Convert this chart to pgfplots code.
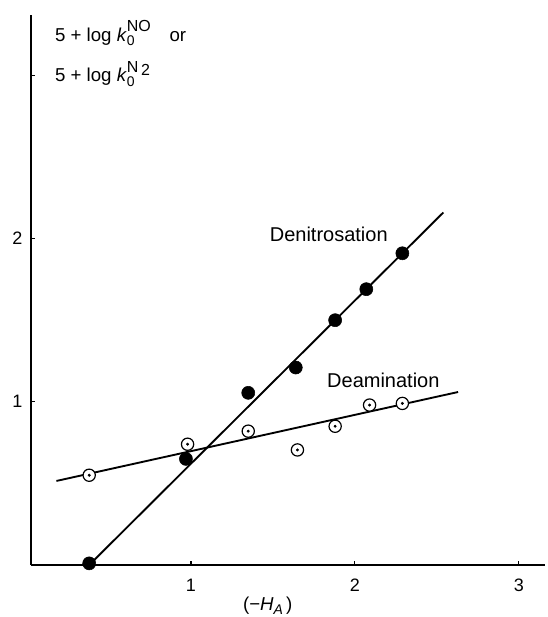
\documentclass[border=0pt]{standalone}
\usepackage{fontspec}
\setmainfont{Liberation Sans}
\usepackage{pgfplots}
\pgfplotsset{compat=1.18}
\newcommand{\lowsub}[1]{\raisebox{-0.45ex}{\fontsize{10.5}{11}\selectfont #1}}
\newcommand{\highsup}[1]{\raisebox{0.95ex}{\fontsize{12}{13}\selectfont #1}}

\begin{document}
\begin{tikzpicture}
\begin{axis}[
    name=ax,
    scale only axis,
    width=385.5pt, height=412.5pt,
    xmin=0.025, xmax=3.16,
    ymin=0, ymax=3.37,
    axis lines=left,
    axis line style={-, line width=1.1pt},
    xtick={1,2,3},
    ytick={1,2,3},
    yticklabels={1,2,{}},
    tick align=inside,
    major tick length=3pt,
    tick style={line width=1pt, black},
    tick label style={font=\fontsize{13.5}{15}\selectfont},
    xticklabel style={yshift=-7pt},
    yticklabel style={xshift=-3pt},
    /pgf/number format/assume math mode=true,
    clip=false,
]
% fitted lines
\addplot[line width=1.4pt] coordinates {(0.38,0.0) (2.54,2.16)};
\addplot[line width=1.4pt] coordinates {(0.18,0.515) (2.63,1.06)};
% denitrosation
\addplot[only marks, mark=*, mark size=4.9pt, black] coordinates {
    (0.38,0.01) (0.97,0.65) (1.35,1.055) (1.64,1.21) (1.88,1.50) (2.07,1.69) (2.29,1.91)};
% deamination
\addplot[only marks, mark=*, mark size=4.6pt, mark options={fill=white, draw=black, line width=0.9pt}] coordinates {
    (0.38,0.55) (0.98,0.74) (1.35,0.82) (1.65,0.705) (1.88,0.85) (2.09,0.98) (2.29,0.99)};
\addplot[only marks, mark=*, mark size=0.9pt, black] coordinates {
    (0.38,0.55) (0.98,0.74) (1.35,0.82) (1.65,0.705) (1.88,0.85) (2.09,0.98) (2.29,0.99)};

\node[anchor=base west, inner sep=0pt, font=\fontsize{15}{17}\selectfont] at (axis cs:1.48,1.98) {Denitrosation};
\node[anchor=base west, inner sep=0pt, font=\fontsize{15}{17}\selectfont] at (axis cs:1.83,1.09) {Deamination};

\node[anchor=base west, inner sep=0pt, font=\fontsize{14}{16}\selectfont] at (axis cs:0.17,3.21)
    {5 + log \textit{k}\rlap{\lowsub{0}}\highsup{NO}\hspace{14pt}or};
\node[anchor=base west, inner sep=0pt, font=\fontsize{14}{16}\selectfont] at (axis cs:0.17,2.96)
    {5 + log \textit{k}\rlap{\lowsub{0}}\highsup{N\,\raisebox{-0.35ex}{2}}};
\node[anchor=base west, inner sep=0pt, font=\fontsize{14}{16}\selectfont] at (axis cs:1.317,-0.276)
    {(−\textit{H}\lowsub{\textit{A}}\,)};
\end{axis}
\pgfresetboundingbox
\path[use as bounding box] ([xshift=-23.25pt,yshift=-39pt]ax.south west) rectangle ([xshift=1.5pt,yshift=11.25pt]ax.north east);
\end{tikzpicture}
\end{document}
